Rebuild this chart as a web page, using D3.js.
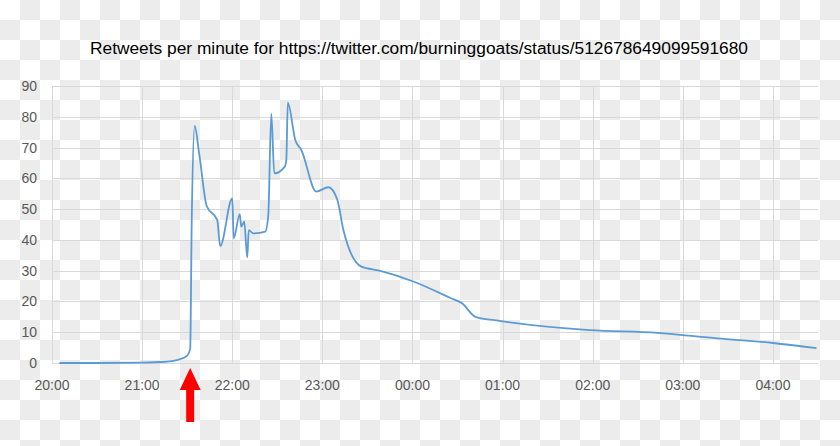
<!DOCTYPE html>
<html>
<head>
<meta charset="utf-8">
<script src="https://cdn.jsdelivr.net/npm/d3@7"></script>
<style>
  html, body { margin: 0; padding: 0; background: #fff; }
  svg { display: block; }
</style>
</head>
<body>
<svg id="chart" width="840" height="446"></svg>
<script>
const title = "Retweets per minute for https://twitter.com/burninggoats/status/512678649099591680";
const times = ["20:05","20:30","21:00","21:15","21:25","21:30","21:32","21:33","21:35","21:38","21:43","21:50","21:52","22:00","22:01","22:05","22:06","22:08","22:10","22:11","22:14","22:22","22:24","22:26","22:28","22:35","22:36","22:37","22:42","22:46","22:56","23:04","23:10","23:14","23:26","23:38","00:01","00:25","00:33","00:42","00:58","01:58","02:43","03:23","04:00","04:29"];
const retweets = [0,0,0.1,0.4,1.2,2.4,4.5,45,77,68,51,46.5,38,53.5,40.5,48.4,44.3,45.9,34.3,43.2,42.1,42.7,48,81,61.6,63.8,66,84.6,72.4,69.2,55.7,57.1,53,43.2,31.3,30,26.4,21.2,19.4,15,13.7,10.7,9.8,8.0,6.5,4.8];
const yTicks = [0,10,20,30,40,50,60,70,80,90];
const xStart = "20:00", xEnd = "04:30";
const arrowTime = "21:32";

function parseT(s) {
  const [h, m] = s.split(":").map(Number);
  const day = h < 12 ? 19 : 18;
  return new Date(2014, 8, day, h, m);
}

const svg = d3.select("#chart");
const W = 840, H = 446;
const margin = {left: 52, right: 22, top: 86, bottom: 83};

// checkerboard background
const defs = svg.append("defs");
const pat = defs.append("pattern").attr("id", "checker").attr("width", 40).attr("height", 40)
  .attr("patternUnits", "userSpaceOnUse");
pat.append("rect").attr("width", 40).attr("height", 40).attr("fill", "#ffffff");
pat.append("rect").attr("x", 20).attr("y", 0).attr("width", 20).attr("height", 20).attr("fill", "#ececec");
pat.append("rect").attr("x", 0).attr("y", 20).attr("width", 20).attr("height", 20).attr("fill", "#ececec");
svg.append("rect").attr("width", W).attr("height", H).attr("fill", "url(#checker)");

const x = d3.scaleTime().domain([parseT(xStart), parseT(xEnd)]).range([margin.left, W - margin.right]);
const y = d3.scaleLinear().domain([0, 90]).range([H - margin.bottom, margin.top]);

// horizontal gridlines
svg.append("g").selectAll("line").data(yTicks).join("line")
  .attr("x1", margin.left).attr("x2", W - margin.right)
  .attr("y1", d => Math.round(y(d)) + 0.5).attr("y2", d => Math.round(y(d)) + 0.5)
  .attr("stroke", "#d9d9d9").attr("stroke-width", 1);

// vertical gridlines
const hours = x.ticks(d3.timeHour.every(1));
svg.append("g").selectAll("line").data(hours).join("line")
  .attr("x1", d => Math.round(x(d)) + 0.5).attr("x2", d => Math.round(x(d)) + 0.5)
  .attr("y1", y(90)).attr("y2", y(0))
  .attr("stroke", "#d9d9d9").attr("stroke-width", 1);

// y labels
svg.append("g").selectAll("text").data(yTicks).join("text")
  .attr("x", 37).attr("y", d => y(d)).attr("dy", "0.36em")
  .attr("text-anchor", "end")
  .attr("font-family", "Liberation Sans, Arial, sans-serif").attr("font-size", 14)
  .attr("fill", "#595959").text(d => d);

// x labels
const fmt = d3.timeFormat("%H:%M");
svg.append("g").selectAll("text").data(hours).join("text")
  .attr("x", d => x(d)).attr("y", 390)
  .attr("text-anchor", "middle")
  .attr("font-family", "Liberation Sans, Arial, sans-serif").attr("font-size", 14)
  .attr("fill", "#595959").text(d => fmt(d));

// line
const data = times.map((t, i) => ({t: parseT(t), v: retweets[i]}));
const line = d3.line().x(d => x(d.t)).y(d => y(d.v)).curve(d3.curveMonotoneX);
svg.append("path").datum(data).attr("d", line)
  .attr("fill", "none").attr("stroke", "#5b9bd5").attr("stroke-width", 1.8)
  .attr("stroke-linejoin", "round");

// title
svg.append("text").attr("x", 419).attr("y", 54).attr("text-anchor", "middle")
  .attr("font-family", "Liberation Sans, Arial, sans-serif").attr("font-size", 16)
  .attr("fill", "#000").attr("textLength", 658).attr("lengthAdjust", "spacingAndGlyphs")
  .text(title);

// red arrow annotation
const ax = x(parseT(arrowTime));
const tipY = 368;
const arrowPts = [
  [ax, tipY], [ax + 10.5, tipY + 22], [ax + 4, tipY + 22], [ax + 4, tipY + 54],
  [ax - 4, tipY + 54], [ax - 4, tipY + 22], [ax - 10.5, tipY + 22]
];
svg.append("path").attr("d", d3.line()(arrowPts) + "Z").attr("fill", "#ff0000");
</script>
</body>
</html>
